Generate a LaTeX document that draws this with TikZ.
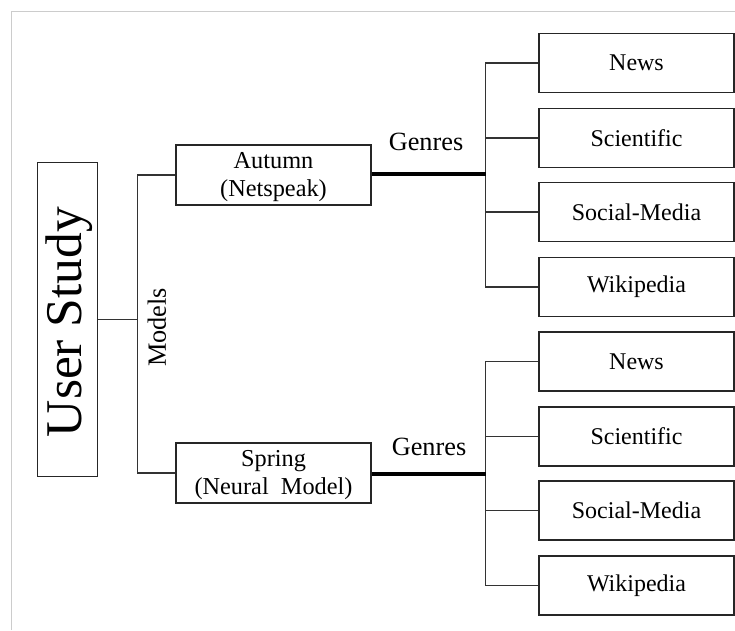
\documentclass[tikz,border=0pt]{standalone}
\usepackage{fontspec}
\setmainfont{Liberation Serif}
\begin{document}
\begin{tikzpicture}[x=1pt,y=-1pt,
  box/.style={draw=black!85, line width=1.3pt, inner sep=0pt, anchor=center},
  genrebox/.style={box, minimum width=195pt, minimum height=59pt, font=\fontsize{24}{28}\selectfont},
  modelbox/.style={box, minimum width=195pt, minimum height=60pt},
  modeltext/.style={inner sep=0pt, align=center, font=\fontsize{24.3}{28}\selectfont},
  link/.style={draw=black!80, line width=1.1pt},
  trunk/.style={draw=black, line width=3.2pt},
  tag/.style={inner sep=0pt, font=\fontsize{26.3}{30}\selectfont}]
\useasboundingbox (0,0) rectangle (735,630);
% light frame on the top and left side
\draw[black!20, line width=1pt] (11,630) -- (11,11) -- (735,11);

% root
\node[box, minimum width=60pt, minimum height=314pt] (us) at (67.5,319.5) {};
\node[inner sep=0pt, rotate=90, font=\fontsize{51.5}{58}\selectfont] (ustext) at (69.5,322) {User Study};

% models
\node[modelbox] (autumn) at (273.5,175) {};
\node[modeltext] (autumntext) at ([yshift=-2.5pt]autumn.center) {Autumn\\(Netspeak)};
\node[modelbox] (spring) at (273.5,473) {};
\node[modeltext] (springtext) at ([yshift=-2pt]spring.center) {Spring\\(Neural~ Model)};
\coordinate (mtop) at (137.3,175);
\coordinate (mbot) at (137.3,473);
\draw[link] (us.east) -- (us.east -| mtop);
\draw[link] (autumn.west) -- (mtop) -- (mbot) -- (spring.west);
\node[tag, rotate=90] (models) at (157,327.5) {Models};

% genres of the first model
\node[genrebox] (a1) at (636.5,63) {News};
\node[genrebox] (a2) at (636.5,138) {Scientific};
\node[genrebox] (a3) at (636.5,212) {Social-Media};
\node[genrebox] (a4) at (636.5,287) {Wikipedia};
\coordinate (ga) at (485.7,174);
\draw[link] (a1.west) -- (a1.west -| ga) -- (a4.west -| ga) -- (a4.west);
\draw[link] (a2.west) -- (a2.west -| ga);
\draw[link] (a3.west) -- (a3.west -| ga);
\draw[trunk] (autumn.east |- ga) -- (ga);
\node[tag] (genresA) at (426,142) {Genres};

% genres of the second model
\node[genrebox] (b1) at (636.5,361.5) {News};
\node[genrebox] (b2) at (636.5,436.5) {Scientific};
\node[genrebox] (b3) at (636.5,510.5) {Social-Media};
\node[genrebox] (b4) at (636.5,585.5) {Wikipedia};
\coordinate (gb) at (485.7,474);
\draw[link] (b1.west) -- (b1.west -| gb) -- (b4.west -| gb) -- (b4.west);
\draw[link] (b2.west) -- (b2.west -| gb);
\draw[link] (b3.west) -- (b3.west -| gb);
\draw[trunk] (spring.east |- gb) -- (gb);
\node[tag] (genresB) at (429,447) {Genres};
\end{tikzpicture}
\end{document}
